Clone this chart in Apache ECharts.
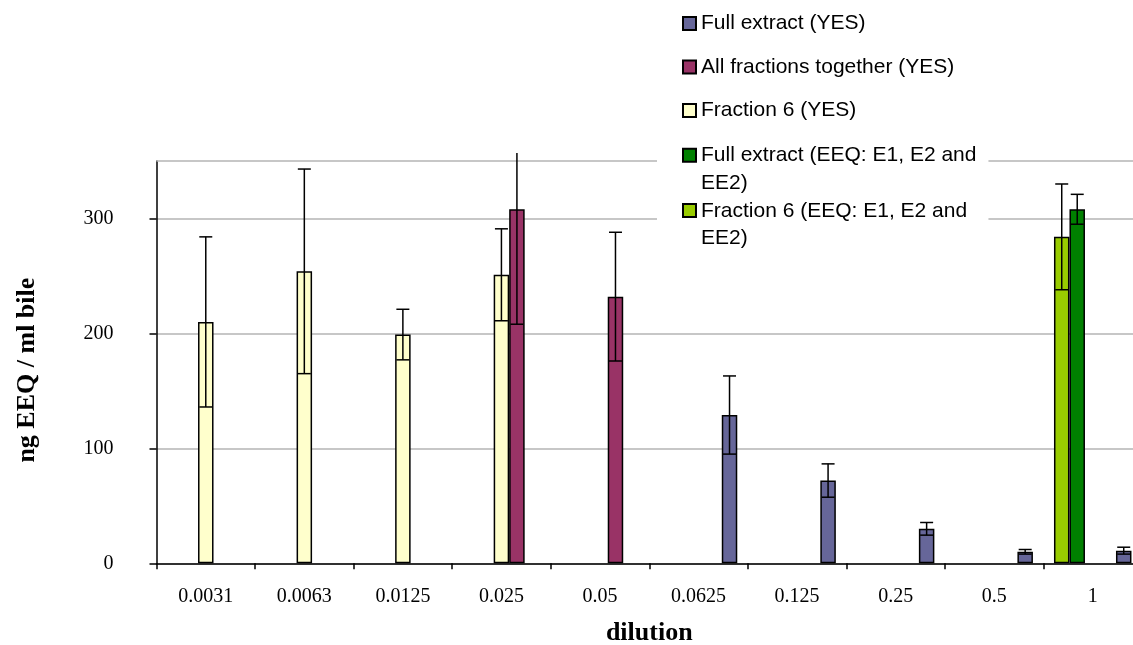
<!DOCTYPE html>
<html>
<head>
<meta charset="utf-8">
<script src="https://cdn.jsdelivr.net/npm/echarts@6/dist/echarts.min.js"></script>
<style>
html,body{margin:0;padding:0;background:#fff;}
#chart{width:1133px;height:645px;}
</style>
</head>
<body>
<div id="chart"></div>
<script>
// ---- data ----
const categories = ['0.0031','0.0063','0.0125','0.025','0.05','0.0625','0.125','0.25','0.5','1'];

const fullYES      = [null, null, null, null, null, 129, 72, 30, 10, 11];
const fullYESErr   = [null, null, null, null, null, 34, 14.5, 5.5, 2, 3];

const allFrac      = [null, null, null, 308, 232, null, null, null, null, null];
const allFracErr   = [null, null, null, 100, 56, null, null, null, null, null];

const frac6YES     = [210, 254, 199, 251, null, null, null, null, null, null];
const frac6YESErr  = [74, 89, 22, 40, null, null, null, null, null, null];

const fullEEQ      = [null, null, null, null, null, null, null, null, null, 308];
const fullEEQErr   = [null, null, null, null, null, null, null, null, null, 13];

const frac6EEQ     = [null, null, null, null, null, null, null, null, null, 284];
const frac6EEQErr  = [null, null, null, null, null, null, null, null, null, 46];

const yTickValues = [0, 100, 200, 300];
const yMax = 350;

const names = {
  fullYES: 'Full extract (YES)',
  allFrac: 'All fractions together (YES)',
  frac6YES: 'Fraction 6 (YES)',
  fullEEQ: 'Full extract (EEQ: E1, E2 and EE2)',
  frac6EEQ: 'Fraction 6 (EEQ: E1, E2 and EE2)'
};

// ---- styling ----
const BAR_W = 15.5;
const SERIF = 'Liberation Serif, Times New Roman, serif';
const SANS = 'Liberation Sans, Arial, sans-serif';
const GRID_COLOR = '#b4b4b4';

// slot order within a category (left to right)
const barDefs = [
  { key: 'frac6EEQ', vals: frac6EEQ, errs: frac6EEQErr, color: '#99CC00' },
  { key: 'fullEEQ',  vals: fullEEQ,  errs: fullEEQErr,  color: '#008000' },
  { key: 'frac6YES', vals: frac6YES, errs: frac6YESErr, color: '#FFFFCC' },
  { key: 'allFrac',  vals: allFrac,  errs: allFracErr,  color: '#993366' },
  { key: 'fullYES',  vals: fullYES,  errs: fullYESErr,  color: '#666699' }
];

const series = [];
barDefs.forEach(function (d, idx) {
  const s = {
    name: names[d.key],
    type: 'bar',
    data: d.vals,
    barWidth: BAR_W,
    barGap: '0%',
    itemStyle: { color: d.color, borderColor: '#000', borderWidth: 1.5 },
    emphasis: { disabled: true },
    z: 2
  };
  if (idx === 0) {
    // top border line of the plot area at the axis maximum
    s.markLine = {
      silent: true, symbol: 'none', label: { show: false },
      lineStyle: { color: GRID_COLOR, width: 1.5, type: 'solid' },
      data: [{ yAxis: yMax }],
      z: 1
    };
  }
  series.push(s);
});

barDefs.forEach(function (d, slot) {
  const errData = [];
  d.vals.forEach(function (v, i) {
    if (v != null && d.errs[i] != null) errData.push([i, v, d.errs[i]]);
  });
  const offset = (slot - (barDefs.length - 1) / 2) * BAR_W;
  series.push({
    name: 'err ' + names[d.key],
    type: 'custom',
    data: errData,
    encode: { x: 0, y: 1 },
    z: 5,
    silent: true,
    renderItem: function (params, api) {
      const cat = api.value(0), v = api.value(1), e = api.value(2);
      const x = api.coord([cat, v])[0] + offset;
      let yTop = api.coord([cat, v + e])[1];
      const yBot = api.coord([cat, v - e])[1];
      const limit = params.coordSys.y - 8;
      const clipped = yTop < limit;
      if (clipped) yTop = limit;
      const st = { stroke: '#000', lineWidth: 1.5 };
      const children = [
        { type: 'line', shape: { x1: x, y1: yTop, x2: x, y2: yBot }, style: st },
        { type: 'line', shape: { x1: x - 6.5, y1: yBot, x2: x + 6.5, y2: yBot }, style: st }
      ];
      if (!clipped) {
        children.push({ type: 'line', shape: { x1: x - 6.5, y1: yTop, x2: x + 6.5, y2: yTop }, style: st });
      }
      return { type: 'group', children: children };
    }
  });
});

const chart = echarts.init(document.getElementById('chart'), null, { renderer: 'canvas' });

const option = {
  backgroundColor: '#fff',
  animation: false,
  grid: { left: 156.5, top: 161, width: 985.5, height: 402.3, containLabel: false, outerBoundsMode: 'none' },
  legend: [
    {
      orient: 'vertical', left: 657, top: 8,
      padding: [5, 24, 5, 25],
      itemWidth: 13, itemHeight: 13, itemGap: 22.5,
      icon: 'rect',
      selectedMode: false,
      data: [names.fullYES, names.allFrac, names.frac6YES],
      textStyle: { fontFamily: SANS, fontSize: 21, color: '#000' }
    },
    {
      orient: 'vertical', left: 657, top: 136.5,
      padding: [5, 12, 5, 25],
      backgroundColor: '#fff',
      itemWidth: 13, itemHeight: 41, itemGap: 0,
      icon: 'path://M0 0H13V13H0ZM0 41',
      selectedMode: false,
      data: [names.fullEEQ, names.frac6EEQ],
      formatter: function (n) { return n.replace(' EE2)', '\nEE2)'); },
      textStyle: { fontFamily: SANS, fontSize: 21, color: '#000', lineHeight: 27.7 }
    }
  ],
  xAxis: {
    type: 'category',
    data: categories,
    boundaryGap: true,
    name: 'dilution',
    nameLocation: 'middle',
    nameGap: 57,
    nameTextStyle: { fontFamily: SERIF, fontSize: 26, fontWeight: 'bold', color: '#000' },
    axisLine: { lineStyle: { color: '#000', width: 1.5 } },
    axisTick: { show: true, length: 6, alignWithLabel: false, interval: 0, lineStyle: { color: '#000', width: 1.5 } },
    axisLabel: { interval: 0, margin: 23, fontFamily: SERIF, fontSize: 20, color: '#000' },
    splitLine: { show: false }
  },
  yAxis: {
    type: 'value',
    min: 0, max: yMax, interval: 100,
    name: 'ng EEQ / ml bile',
    nameLocation: 'middle',
    nameRotate: 90,
    nameGap: 116,
    nameTextStyle: { fontFamily: SERIF, fontSize: 26, fontWeight: 'bold', color: '#000', padding: [0, 16, 0, 0] },
    axisLine: { show: true, lineStyle: { color: '#000', width: 1.5 } },
    axisTick: { show: true, length: 7, inside: false, customValues: yTickValues, lineStyle: { color: '#000', width: 1.5 } },
    axisLabel: { margin: 43, fontFamily: SERIF, fontSize: 20, color: '#000', customValues: yTickValues },
    splitLine: { show: true, lineStyle: { color: GRID_COLOR, width: 1.5 } }
  },
  series: series
};

chart.setOption(option);
</script>
</body>
</html>
